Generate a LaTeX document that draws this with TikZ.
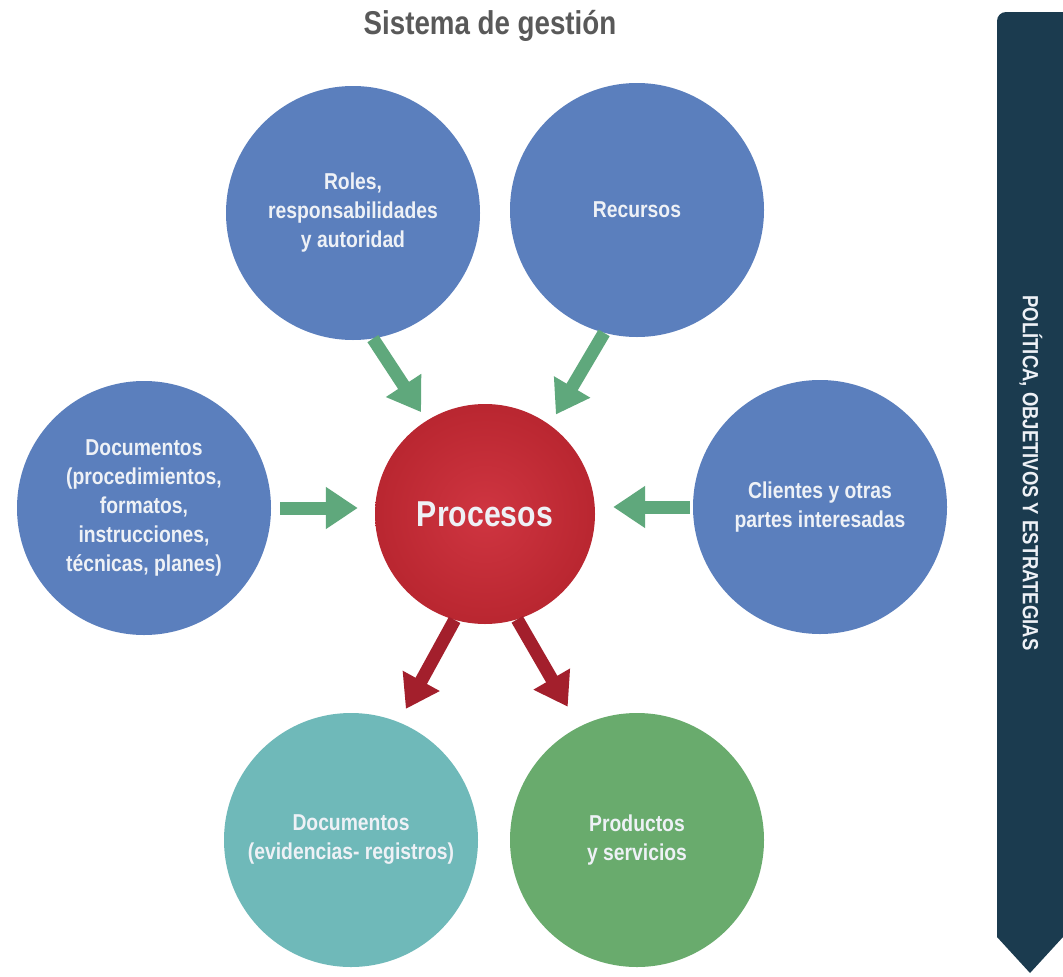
\documentclass[tikz,border=0pt]{standalone}
\usepackage{fontspec}
\setmainfont{Liberation Sans}[FakeStretch=0.84]
\usetikzlibrary{arrows.meta,calc}
\definecolor{cblue}{HTML}{5B7FBD}
\definecolor{cteal}{HTML}{6FB9B9}
\definecolor{cgreen}{HTML}{69AB6D}
\definecolor{garrowc}{HTML}{5FA87C}
\definecolor{rarrowc}{HTML}{A31F2C}
\definecolor{bannerc}{HTML}{1B3B4F}
\definecolor{ctext}{HTML}{EEF1F6}
\definecolor{titlec}{HTML}{595959}
\definecolor{prin}{HTML}{CF3541}
\definecolor{prmid}{HTML}{BC2832}
\definecolor{prout}{HTML}{A01C26}
\pgfdeclareradialshading{procshade}{\pgfpoint{0bp}{0bp}}{color(0bp)=(prin); color(22bp)=(prmid); color(50bp)=(prout); color(75bp)=(prout)}
\tikzset{
  bub/.style={circle, minimum size=254pt, inner sep=0pt, fill=cblue, text=ctext,
    font=\bfseries\fontsize{23}{29}\selectfont, align=center},
  garrow/.style={draw=garrowc, line width=13pt, -{Triangle[length=32pt,width=40pt]}},
  rarrow/.style={draw=rarrowc, line width=13pt, -{Triangle[length=32pt,width=40pt]}},
}
\begin{document}
\begin{tikzpicture}[x=1pt,y=-1pt]
\useasboundingbox (0,0) rectangle (1063,977);
\fill[white] (0,0) rectangle (1063,977);
% title
\node[font=\bfseries\fontsize{33}{38}\selectfont, text=titlec] (title) at (490,26) {Sistema de gestión};
% banner
\fill[bannerc] (1063,12) [rounded corners=9pt] -- (997,12) [sharp corners] -- (997,937) -- (1030,973) -- (1063,937) -- cycle;
\node[rotate=-90, font=\bfseries\fontsize{22}{26}\selectfont, text=ctext] (bannertext) at (1031,473) {POLÍTICA, OBJETIVOS Y ESTRATEGIAS};
% circles
\node[bub] (roles) at (353,213) {Roles,\\responsabilidades\\y autoridad};
\node[bub] (recursos) at (637,210) {Recursos};
\node[bub] (docs) at (144,508) {Documentos\\(procedimientos,\\formatos,\\instrucciones,\\técnicas, planes)};
\node[bub] (clients) at (820,507) {Clientes y otras\\partes interesadas};
\node[circle, minimum size=220pt, inner sep=0pt, shading=procshade, text=ctext,
  font=\bfseries\fontsize{36}{40}\selectfont] (proc) at (485,514) {Procesos};
\node[bub, fill=cteal] (docev) at (351,840) {Documentos\\(evidencias- registros)};
\node[bub, fill=cgreen] (prod) at (637,840) {Productos\\y servicios};
% arrows
\draw[garrow, shorten >=10pt] (roles.-81) -- (proc.122.5);
\draw[garrow, shorten >=12pt] (recursos.-105) -- (proc.54.8);
\draw[garrow, shorten <=9pt, shorten >=17pt] (docs.east) -- (docs.east -| proc.west);
\draw[garrow, shorten <=3pt, shorten >=18pt] (clients.west) -- (clients.west -| proc.east);
\draw[rarrow, shorten >=15pt] (proc.-106.6) -- (docev.68.6);
\draw[rarrow, shorten >=23pt] (proc.-73.4) -- (prod.117.8);
\end{tikzpicture}
\end{document}
